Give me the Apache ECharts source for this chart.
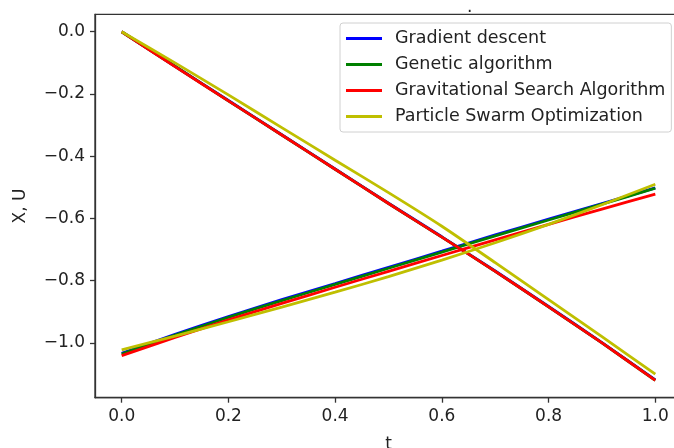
<!DOCTYPE html>
<html>
<head>
<meta charset="utf-8">
<script src="https://cdn.jsdelivr.net/npm/echarts@6.0.0/dist/echarts.min.js"></script>
<style>
  html, body { margin: 0; padding: 0; background: #fff; }
  #main { width: 674px; height: 448px; }
</style>
</head>
<body>
<div id="main"></div>
<script>
// time points
var tValues = [0, 0.1, 0.2, 0.3, 0.4, 0.5, 0.6, 0.7, 0.8, 0.9, 1.0];

// X curves (descending)
var gdX  = [0, -0.111, -0.221, -0.331, -0.441, -0.551, -0.659, -0.769, -0.883, -0.999, -1.119];
var gaX  = [0, -0.111, -0.222, -0.332, -0.442, -0.552, -0.660, -0.770, -0.884, -1.000, -1.120];
var gsaX = [0, -0.112, -0.222, -0.332, -0.442, -0.552, -0.660, -0.770, -0.884, -1.000, -1.120];
var psoX = [0, -0.100, -0.203, -0.308, -0.413, -0.517, -0.625, -0.742, -0.861, -0.980, -1.100];

// U curves (ascending)
var gdU  = [-1.033, -0.972, -0.915, -0.861, -0.809, -0.757, -0.705, -0.653, -0.602, -0.552, -0.502];
var gaU  = [-1.036, -0.975, -0.918, -0.864, -0.812, -0.760, -0.708, -0.656, -0.605, -0.554, -0.503];
var gsaU = [-1.041, -0.982, -0.926, -0.873, -0.821, -0.770, -0.719, -0.669, -0.619, -0.570, -0.522];
var psoU = [-1.022, -0.978, -0.932, -0.885, -0.837, -0.787, -0.734, -0.678, -0.619, -0.556, -0.490];

var names = ['Gradient descent', 'Genetic algorithm', 'Gravitational Search Algorithm', 'Particle Swarm Optimization'];
var colors = ['#0000ff', '#008000', '#ff0000', '#bfbf00'];
var xData = [gdX, gaX, gsaX, psoX];
var uData = [gdU, gaU, gsaU, psoU];

var xTicks = [0, 0.2, 0.4, 0.6, 0.8, 1.0];
var yTicks = [0, -0.2, -0.4, -0.6, -0.8, -1.0];

function pairs(vals) {
    var out = [];
    for (var i = 0; i < tValues.length; i++) {
        out.push([tValues[i], vals[i]]);
    }
    return out;
}

function fmt(v) {
    return v.toFixed(1).replace('-', '\u2212');
}

var series = [];
for (var k = 0; k < names.length; k++) {
    // one series for X, one for U, same name so legend merges them
    [xData[k], uData[k]].forEach(function (vals) {
        series.push({
            name: names[k],
            type: 'line',
            data: pairs(vals),
            showSymbol: false,
            smooth: 0.2,
            color: colors[k],
            lineStyle: { width: 2.8, color: colors[k] }
        });
    });
}

var font = 'DejaVu Sans';
var fs = 17;
var myChart = echarts.init(document.getElementById('main'));
var option = {
    animation: false,
    backgroundColor: '#fff',
    title: {
        text: '.',
        left: 462,
        top: -6,
        textStyle: { fontFamily: font, fontSize: fs, fontWeight: 'normal', color: '#222' }
    },
    legend: {
        data: names,
        orient: 'vertical',
        left: 340,
        top: 23,
        icon: 'rect',
        itemWidth: 36,
        itemHeight: 3,
        itemGap: 7,
        padding: [6, 6, 6, 6],
        backgroundColor: 'rgba(255,255,255,0.9)',
        borderColor: '#d0d0d0',
        borderWidth: 1,
        borderRadius: 3,
        textStyle: { fontFamily: font, fontSize: 17.5, color: '#222', lineHeight: 19, padding: [0, 0, 0, 8] }
    },
    grid: {
        left: 95,
        top: 14.3,
        width: 587,
        height: 383.4,
        show: true,
        borderColor: '#333',
        borderWidth: 1.3,
        containLabel: false,
        outerBoundsMode: 'none'
    },
    xAxis: {
        type: 'value',
        min: -0.05,
        max: 1.05,
        name: 't',
        nameLocation: 'middle',
        nameGap: 38,
        nameTextStyle: { fontFamily: font, fontSize: fs, color: '#222' },
        axisLine: { show: true, onZero: false, lineStyle: { color: '#333', width: 1.3 } },
        axisTick: { show: true, inside: false, length: 5, customValues: xTicks, lineStyle: { color: '#333', width: 1.3 } },
        axisLabel: { customValues: xTicks, margin: 10, fontFamily: font, fontSize: fs, color: '#222', formatter: fmt },
        splitLine: { show: false }
    },
    yAxis: {
        type: 'value',
        min: -1.176,
        max: 0.056,
        name: 'X, U',
        nameLocation: 'middle',
        nameGap: 66,
        nameTextStyle: { fontFamily: font, fontSize: fs, color: '#222' },
        axisLine: { show: true, onZero: false, lineStyle: { color: '#333', width: 1.3 } },
        axisTick: { show: true, inside: false, length: 5, customValues: yTicks, lineStyle: { color: '#333', width: 1.3 } },
        axisLabel: { customValues: yTicks, margin: 10, fontFamily: font, fontSize: fs, color: '#222', formatter: fmt },
        splitLine: { show: false }
    },
    series: series
};
myChart.setOption(option);
</script>
</body>
</html>
